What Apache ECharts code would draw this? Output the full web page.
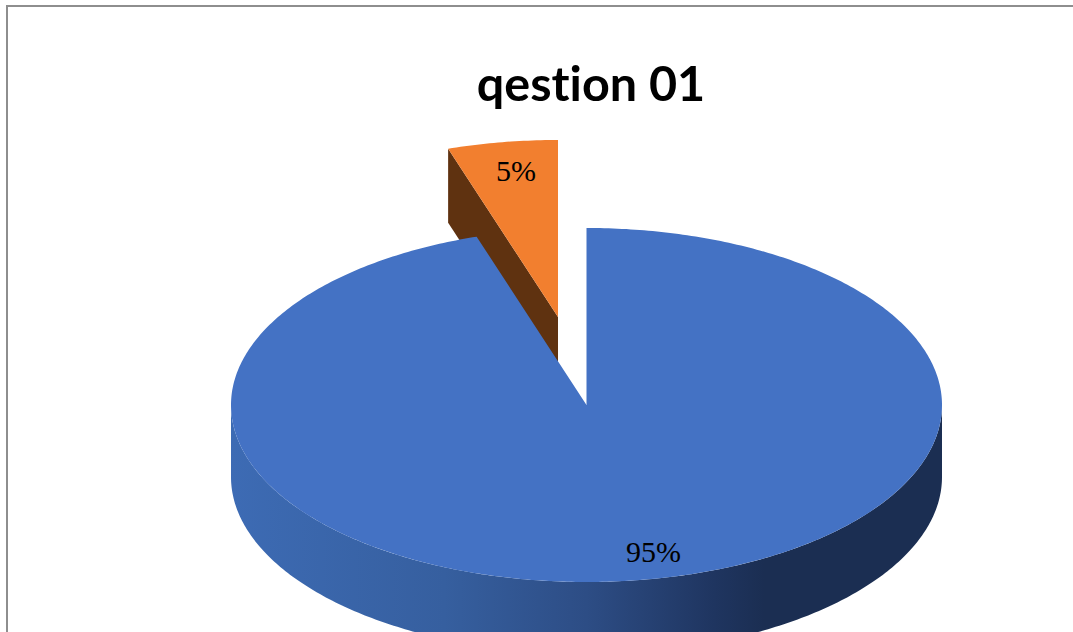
<!DOCTYPE html>
<html>
<head>
<meta charset="utf-8">
<style>html,body{margin:0;padding:0;background:#fff}#c{width:1073px;height:632px}
#c text{font-variant-ligatures:none;font-feature-settings:"liga" 0,"clig" 0}</style>
<script src="https://cdn.jsdelivr.net/npm/echarts@6/dist/echarts.min.js"></script>
</head>
<body>
<div id="c"></div>
<script>
var chartTitle = 'qestion 01';
var categories = ['Yes', 'No'];
var shareValues = [95, 5];
var shareLabels = ['95%', '5%'];

var CX = 586.5, CY = 405, RX = 355.5, RY = 177;
var looks = [
  { top: '#4472C4', depth: 72, dx: 0, dy: 0, lx: 67, ly: 146, z: 3 },
  { top: '#F27F2F', wall: '#5F3210', depth: 74, dx: -28.5, dy: -88, lx: -42, ly: -147, z: 1 }
];
var sideFill = {
  type: 'linear', x: 231, y: 0, x2: 942, y2: 0, global: true,
  colorStops: [
    { offset: 0, color: '#3D6BB4' },
    { offset: 0.3, color: '#365F9F' },
    { offset: 0.5, color: '#2D4D85' },
    { offset: 0.68, color: '#1F3560' },
    { offset: 0.75, color: '#1B2E52' },
    { offset: 1, color: '#1B2E52' }
  ]
};
var total = shareValues.reduce(function (a, b) { return a + b; }, 0);

function rim(cx, cy, from, to) {
  var pts = [], n = Math.max(2, Math.ceil(Math.abs(to - from) * 80));
  for (var i = 0; i <= n; i++) {
    var t = from + (to - from) * i / n;
    pts.push([cx + RX * Math.sin(t), cy - RY * Math.cos(t)]);
  }
  return pts;
}

function renderSlice(params, api) {
  var i = params.dataIndex;
  var look = looks[i];
  var before = 0;
  for (var k = 0; k < i; k++) before += shareValues[k];
  var a0 = before / total * 2 * Math.PI;
  var a1 = (before + api.value(0)) / total * 2 * Math.PI;
  var cx = CX + look.dx, cy = CY + look.dy;
  var kids = [];

  if (look.wall) {
    var e = rim(cx, cy, a0, a0)[0];
    kids.push({
      type: 'polygon', z2: look.z,
      shape: { points: [[cx, cy], e, [e[0], e[1] + look.depth], [cx, cy + look.depth]] },
      style: { fill: look.wall }
    });
  } else {
    var front = rim(cx, cy, Math.PI / 2, 3 * Math.PI / 2);
    var lower = rim(cx, cy + look.depth, 3 * Math.PI / 2, Math.PI / 2);
    kids.push({
      type: 'polygon', z2: look.z,
      shape: { points: front.concat(lower) },
      style: { fill: sideFill }
    });
  }
  kids.push({
    type: 'polygon', z2: look.z + 1,
    shape: { points: [[cx, cy]].concat(rim(cx, cy, a0, a1)) },
    style: { fill: look.top }
  });
  kids.push({
    type: 'text', z2: 10,
    style: {
      x: cx + look.lx, y: cy + look.ly,
      text: shareLabels[i],
      fill: '#000',
      font: '30px "Liberation Serif"',
      align: 'center', verticalAlign: 'middle'
    }
  });
  return { type: 'group', children: kids };
}

var chart = echarts.init(document.getElementById('c'), null, { renderer: 'svg' });
chart.setOption({
  animation: false,
  backgroundColor: '#fff',
  title: {
    text: chartTitle, left: 586, top: 52, textAlign: 'center',
    textStyle: { fontFamily: 'Lato', fontWeight: 'bold', fontSize: 48.5, color: '#000' }
  },
  graphic: [
    { type: 'line', shape: { x1: 6, y1: 6, x2: 1073, y2: 6 }, style: { stroke: '#8E8E8E', lineWidth: 2 }, silent: true },
    { type: 'line', shape: { x1: 7, y1: 6, x2: 7, y2: 632 }, style: { stroke: '#8E8E8E', lineWidth: 2 }, silent: true }
  ],
  series: [{
    type: 'custom',
    coordinateSystem: 'none',
    renderItem: renderSlice,
    clip: false,
    data: shareValues.map(function (v, i) { return { name: categories[i], value: [v] }; })
  }]
});
</script>
</body>
</html>
